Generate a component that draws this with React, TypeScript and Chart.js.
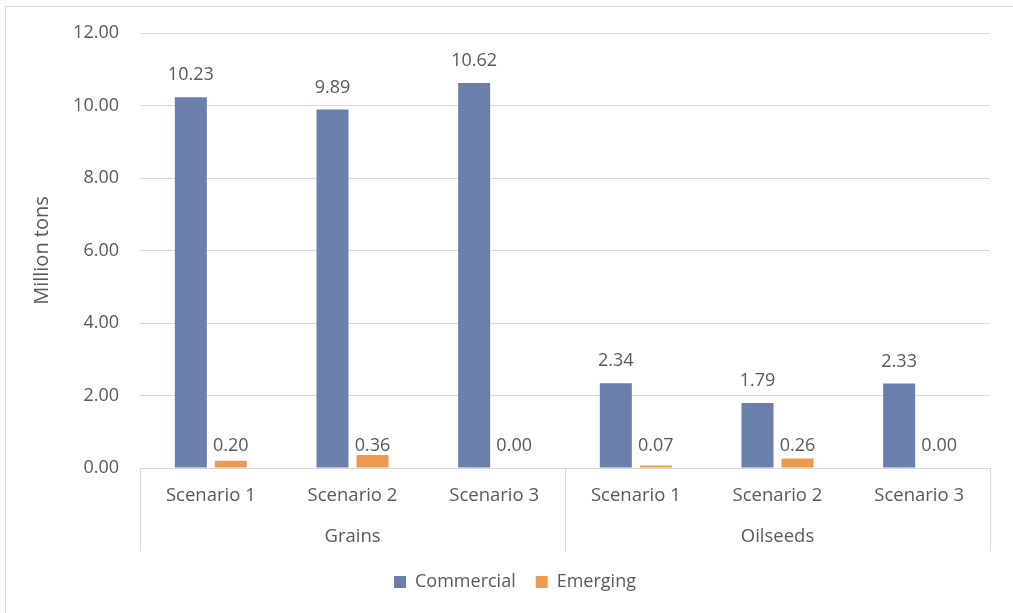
import React, { useEffect, useRef } from "react";
import { Chart, registerables } from "chart.js";

Chart.register(...registerables);

const scenarios = ["Scenario 1", "Scenario 2", "Scenario 3", "Scenario 1", "Scenario 2", "Scenario 3"];
const groups = ["Grains", "Oilseeds"];
const commercial = [10.23, 9.89, 10.62, 2.34, 1.79, 2.33];
const emerging = [0.2, 0.36, 0.0, 0.07, 0.26, 0.0];
const yTicks = [0, 2, 4, 6, 8, 10, 12];

const TEXT = "#595959";
const GRID = "#d9d9d9";
const FONT = "'Open Sans', sans-serif";

const decorPlugin = {
  id: "decor",
  beforeDraw(chart: any) {
    const ctx = chart.ctx;
    ctx.save();
    ctx.strokeStyle = GRID;
    ctx.lineWidth = 1;
    ctx.strokeRect(5.5, 6.5, 1030, 630);
    ctx.restore();
  },
  afterDraw(chart: any) {
    const ctx = chart.ctx;
    const area = chart.chartArea;
    const x = chart.scales.x;
    const n = scenarios.length;
    const per = n / groups.length;
    const step = (area.right - area.left) / n;
    ctx.save();
    ctx.strokeStyle = GRID;
    ctx.lineWidth = 1;
    for (let g = 0; g <= groups.length; g++) {
      const px = Math.round(x.left + g * per * step) + 0.5;
      ctx.beginPath();
      ctx.moveTo(px, area.bottom);
      ctx.lineTo(px, area.bottom + 83);
      ctx.stroke();
    }
    ctx.restore();
  },
  afterDatasetsDraw(chart: any) {
    const ctx = chart.ctx;
    const base = chart.scales.y.getPixelForValue(0);
    ctx.save();
    ctx.font = `18px ${FONT}`;
    ctx.fillStyle = TEXT;
    ctx.textAlign = "center";
    ctx.textBaseline = "middle";
    chart.data.datasets.forEach((ds: any, di: number) => {
      const meta = chart.getDatasetMeta(di);
      meta.data.forEach((el: any, i: number) => {
        const v = ds.data[i] as number;
        const y = di === 0 ? el.y - 22 : base - 22;
        ctx.fillText(v.toFixed(2), el.x, y);
      });
    });
    ctx.restore();
  },
};

export default function App() {
  const ref = useRef<HTMLCanvasElement>(null);
  useEffect(() => {
    if (!ref.current) return;
    const chart = new Chart(ref.current, {
      type: "bar",
      data: {
        labels: scenarios,
        datasets: [
          {
            label: "Commercial",
            data: commercial,
            backgroundColor: "#6a7fab",
            categoryPercentage: 0.565,
            barPercentage: 0.8,
          },
          {
            label: "Emerging",
            data: emerging,
            backgroundColor: "#ed9a50",
            categoryPercentage: 0.565,
            barPercentage: 0.8,
          },
        ],
      },
      options: {
        animation: false,
        responsive: true,
        maintainAspectRatio: false,
        layout: { padding: { left: 40, right: 23, top: 33, bottom: 12 } },
        plugins: {
          tooltip: { enabled: false },
          legend: {
            position: "bottom",
            labels: {
              color: TEXT,
              font: { family: FONT, size: 18 },
              boxWidth: 12,
              boxHeight: 12,
              padding: 20,
            },
          },
        },
        scales: {
          x: {
            position: "bottom",
            grid: { display: false, drawTicks: false },
            border: { display: true, color: GRID },
            ticks: { color: TEXT, font: { family: FONT, size: 18.5 }, padding: 17, maxRotation: 0, autoSkip: false },
            afterFit(s: any) {
              s.height = 43;
            },
          },
          x2: {
            type: "category",
            position: "bottom",
            labels: groups,
            offset: true,
            grid: { display: false, drawTicks: false },
            border: { display: false },
            ticks: { color: TEXT, font: { family: FONT, size: 18.5 }, padding: 15, maxRotation: 0 },
            afterFit(s: any) {
              s.height = 42;
            },
          },
          y: {
            min: 0,
            max: 12,
            afterBuildTicks(s: any) {
              s.ticks = yTicks.map((v) => ({ value: v }));
            },
            grid: { color: GRID, drawTicks: false },
            border: { display: false },
            ticks: {
              color: TEXT,
              font: { family: FONT, size: 18 },
              padding: 21,
              callback: (v: any) => Number(v).toFixed(2),
            },
            title: {
              display: true,
              text: "Million tons",
              color: TEXT,
              font: { family: FONT, size: 20 },
              padding: { top: -10, bottom: 0 },
            },
            afterFit(s: any) {
              s.width = 100;
            },
          },
        },
      },
      plugins: [decorPlugin],
    } as any);
    return () => chart.destroy();
  }, []);
  return (
    <div style={{ position: "absolute", left: 0, top: 0, width: 1013, height: 613, background: "#fff" }}>
      <canvas ref={ref} />
    </div>
  );
}
